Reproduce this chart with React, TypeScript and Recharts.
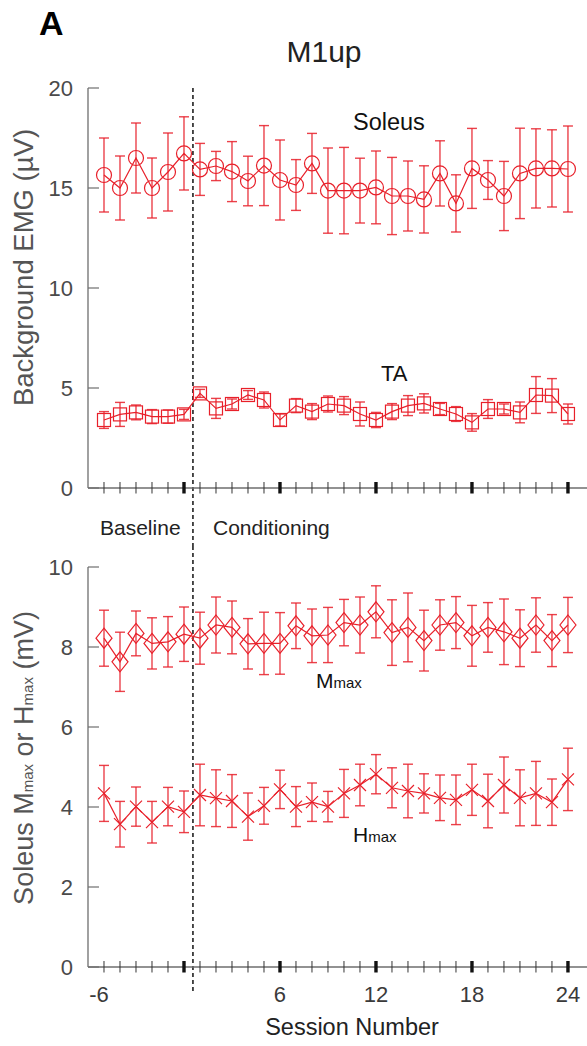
import React from 'react';
import { LineChart, Line, XAxis, YAxis, ErrorBar, ReferenceLine } from 'recharts';

// session numbers: 6 baseline sessions, then 24 conditioning sessions (no session 0)
const sessions = [-6, -5, -4, -3, -2, -1, 1, 2, 3, 4, 5, 6, 7, 8, 9, 10, 11, 12, 13, 14, 15, 16, 17, 18, 19, 20, 21, 22, 23, 24];
const labelledSessions = [-6, 6, 12, 18, 24];
const majorSessions = [-1, 6, 12, 18, 24];

// background EMG (uV)
const soleusMean = [15.65, 15.0, 16.5, 15.0, 15.8, 16.73, 15.93, 16.1, 15.82, 15.35, 16.12, 15.4, 15.15, 16.23, 14.87, 14.87, 14.87, 15.03, 14.6, 14.6, 14.43, 15.73, 14.23, 15.98, 15.4, 14.6, 15.73, 15.98, 15.98, 15.95];
const soleusSem = [1.85, 1.6, 1.75, 1.5, 1.95, 1.83, 1.3, 0.73, 1.5, 1.24, 2.0, 2.0, 1.27, 1.5, 2.13, 2.16, 1.62, 1.82, 1.93, 1.75, 1.68, 1.63, 1.43, 2.0, 0.97, 1.73, 2.26, 1.98, 1.93, 2.15];
const taMean = [3.4, 3.68, 3.78, 3.57, 3.57, 3.68, 4.73, 3.98, 4.2, 4.65, 4.4, 3.4, 4.12, 3.82, 4.2, 4.12, 3.7, 3.4, 3.82, 4.12, 4.23, 3.95, 3.7, 3.28, 3.95, 3.95, 3.78, 4.65, 4.62, 3.7];
const taSem = [0.42, 0.6, 0.37, 0.35, 0.33, 0.25, 0.2, 0.5, 0.25, 0.22, 0.4, 0.3, 0.35, 0.4, 0.4, 0.45, 0.6, 0.38, 0.4, 0.5, 0.48, 0.28, 0.37, 0.44, 0.47, 0.25, 0.52, 0.92, 0.85, 0.5];

// soleus Mmax / Hmax (mV)
const mmaxMean = [8.22, 7.63, 8.34, 8.09, 8.13, 8.32, 8.22, 8.55, 8.49, 8.08, 8.09, 8.09, 8.53, 8.28, 8.3, 8.61, 8.55, 8.88, 8.36, 8.49, 8.16, 8.55, 8.61, 8.28, 8.49, 8.38, 8.22, 8.55, 8.16, 8.55];
const mmaxSem = [0.7, 0.74, 0.56, 0.64, 0.63, 0.68, 0.65, 0.7, 0.66, 0.63, 0.78, 0.77, 0.57, 0.67, 0.69, 0.58, 0.7, 0.65, 0.82, 0.86, 0.76, 0.63, 0.65, 0.76, 0.62, 0.82, 0.71, 0.68, 0.65, 0.69];
const hmaxMean = [4.34, 3.57, 4.01, 3.62, 4.01, 3.88, 4.3, 4.22, 4.15, 3.76, 4.03, 4.44, 4.01, 4.12, 4.01, 4.34, 4.55, 4.82, 4.48, 4.4, 4.34, 4.23, 4.18, 4.43, 4.15, 4.55, 4.23, 4.34, 4.12, 4.69];
const hmaxSem = [0.7, 0.57, 0.49, 0.52, 0.48, 0.52, 0.77, 0.71, 0.66, 0.59, 0.46, 0.48, 0.5, 0.48, 0.38, 0.6, 0.52, 0.49, 0.5, 0.67, 0.49, 0.57, 0.62, 0.64, 0.67, 0.7, 0.7, 0.8, 0.58, 0.78];

const emgTicks = [0, 5, 10, 15, 20];
const reflexTicks = [0, 2, 4, 6, 8, 10];

const RED = '#e8202a';
const AXIS = '#6e6e6e';
const FONT = '"Liberation Sans", Arial, Helvetica, sans-serif';

// baseline sessions sit directly left of session 1
const toPos = (s: number) => (s < 0 ? s + 1 : s);
const toSession = (p: number) => (p <= 0 ? p - 1 : p);
const tickPositions = sessions.map(toPos);
const dividerPos = 0.56;

const emgRows = sessions.map((s, i) => ({
  pos: toPos(s),
  soleus: soleusMean[i],
  soleusErr: soleusSem[i],
  ta: taMean[i],
  taErr: taSem[i],
}));

const reflexRows = sessions.map((s, i) => ({
  pos: toPos(s),
  mmax: mmaxMean[i],
  mmaxErr: mmaxSem[i],
  hmax: hmaxMean[i],
  hmaxErr: hmaxSem[i],
}));

const XTick = ({ x, y, payload, showLabels }: any) => {
  const s = toSession(payload.value);
  const major = majorSessions.includes(s);
  const label = showLabels && labelledSessions.includes(s);
  return (
    <g>
      <line x1={x} x2={x} y1={y - 6} y2={y + 5.5} stroke={major ? '#111' : '#333'} strokeWidth={major ? 3.4 : 1} />
      {label && (
        <text x={x + (s < 0 ? -5 : 0)} y={y + 35} textAnchor="middle" fontSize={22} fill="#3a3a3a" fontFamily={FONT}>
          {String(s)}
        </text>
      )}
    </g>
  );
};

const YTick = ({ x, y, payload }: any) => (
  <g>
    <line x1={x} x2={x + 11} y1={y} y2={y} stroke={AXIS} strokeWidth={1.2} />
    <text x={x - 15} y={y + 8} textAnchor="end" fontSize={22} fill="#4a4a4a" fontFamily={FONT}>
      {payload.value}
    </text>
  </g>
);

const circleDot = (p: any) => (
  <circle key={`c-${p.index}`} cx={p.cx} cy={p.cy} r={7.5} fill="none" stroke={RED} strokeWidth={1.2} />
);
const squareDot = (p: any) => (
  <rect key={`s-${p.index}`} x={p.cx - 6.5} y={p.cy - 6.5} width={13} height={13} fill="none" stroke={RED} strokeWidth={1.2} />
);
const diamondDot = (p: any) => (
  <path
    key={`d-${p.index}`}
    d={`M${p.cx},${p.cy - 10} L${p.cx + 8},${p.cy} L${p.cx},${p.cy + 10} L${p.cx - 8},${p.cy} Z`}
    fill="none"
    stroke={RED}
    strokeWidth={1.2}
  />
);
const crossDot = (p: any) => (
  <path
    key={`x-${p.index}`}
    d={`M${p.cx - 6},${p.cy - 6} L${p.cx + 6},${p.cy + 6} M${p.cx - 6},${p.cy + 6} L${p.cx + 6},${p.cy - 6}`}
    fill="none"
    stroke={RED}
    strokeWidth={1.2}
  />
);

const series = (key: string, errKey: string, dot: any) => (
  <Line
    key={key}
    type="linear"
    dataKey={key}
    stroke={RED}
    strokeWidth={1.2}
    dot={dot}
    activeDot={false}
    isAnimationActive={false}
  >
    <ErrorBar dataKey={errKey} direction="y" width={5} stroke={RED} strokeWidth={1.4} strokeOpacity={0.85} isAnimationActive={false} />
  </Line>
);

export default function App() {
  return (
    <div style={{ position: 'absolute', left: 0, top: 0, width: 587, height: 1046, background: '#fff', fontFamily: FONT }}>
      <div style={{ position: 'absolute', left: 0, top: 0 }}>
        <LineChart width={587} height={546} data={emgRows} margin={{ top: 88, right: 0, bottom: 0, left: 0 }}>
          <XAxis
            type="number"
            dataKey="pos"
            domain={[-6, 25.19]}
            ticks={tickPositions}
            interval={0}
            allowDataOverflow
            height={58}
            axisLine={{ stroke: AXIS, strokeWidth: 1.3 }}
            tickLine={false}
            tickSize={0}
            tickMargin={0}
            tick={(p: any) => <XTick {...p} showLabels={false} />}
          />
          <YAxis
            type="number"
            domain={[0, 20]}
            ticks={emgTicks}
            interval={0}
            allowDataOverflow
            width={88}
            axisLine={{ stroke: AXIS, strokeWidth: 1.3 }}
            tickLine={false}
            tickSize={0}
            tickMargin={0}
            tick={YTick}
          />
          <ReferenceLine
            segment={[{ x: dividerPos, y: 20 }, { x: dividerPos, y: -2.9 }]}
            stroke="#000"
            strokeWidth={1.4}
            strokeDasharray="4 3"
            ifOverflow="visible"
          />
          {series('soleus', 'soleusErr', circleDot)}
          {series('ta', 'taErr', squareDot)}
        </LineChart>
      </div>
      <div style={{ position: 'absolute', left: 0, top: 546 }}>
        <LineChart width={587} height={500} data={reflexRows} margin={{ top: 21, right: 0, bottom: 0, left: 0 }}>
          <XAxis
            type="number"
            dataKey="pos"
            domain={[-6, 25.19]}
            ticks={tickPositions}
            interval={0}
            allowDataOverflow
            height={79}
            axisLine={{ stroke: AXIS, strokeWidth: 1.3 }}
            tickLine={false}
            tickSize={0}
            tickMargin={0}
            tick={(p: any) => <XTick {...p} showLabels />}
          />
          <YAxis
            type="number"
            domain={[0, 10]}
            ticks={reflexTicks}
            interval={0}
            allowDataOverflow
            width={88}
            axisLine={{ stroke: AXIS, strokeWidth: 1.3 }}
            tickLine={false}
            tickSize={0}
            tickMargin={0}
            tick={YTick}
          />
          <ReferenceLine
            segment={[{ x: dividerPos, y: 10.525 }, { x: dividerPos, y: -0.62 }]}
            stroke="#000"
            strokeWidth={1.4}
            strokeDasharray="4 3"
            ifOverflow="visible"
          />
          {series('mmax', 'mmaxErr', diamondDot)}
          {series('hmax', 'hmaxErr', crossDot)}
        </LineChart>
      </div>
      <svg width={587} height={1046} style={{ position: 'absolute', left: 0, top: 0, pointerEvents: 'none' }} fontFamily={FONT}>
        <text x={39} y={35} fontSize={34} fontWeight="bold" fill="#000">A</text>
        <text x={324} y={62} fontSize={30} textAnchor="middle" fill="#222">M1up</text>
        <text x={353} y={130} fontSize={23.5} fill="#111">Soleus</text>
        <text x={381} y={381} fontSize={22} fill="#111">TA</text>
        <text x={100} y={535} fontSize={21} fill="#222">Baseline</text>
        <text x={213} y={535} fontSize={21} fill="#222">Conditioning</text>
        <text x={316} y={688} fontSize={21} fill="#111">
          M<tspan fontSize={15}>max</tspan>
        </text>
        <text x={353} y={842} fontSize={21} fill="#111">
          H<tspan fontSize={15}>max</tspan>
        </text>
        <text x={352} y={1035} fontSize={23.5} textAnchor="middle" fill="#222">Session Number</text>
        <text transform="translate(33,267.5) rotate(-90)" fontSize={27.5} textAnchor="middle" fill="#555">
          Background EMG (µV)
        </text>
        <text transform="translate(33,758) rotate(-90)" fontSize={27} textAnchor="middle" fill="#555">
          Soleus M<tspan fontSize={15}>max</tspan> or H<tspan fontSize={15}>max</tspan> (mV)
        </text>
      </svg>
    </div>
  );
}
